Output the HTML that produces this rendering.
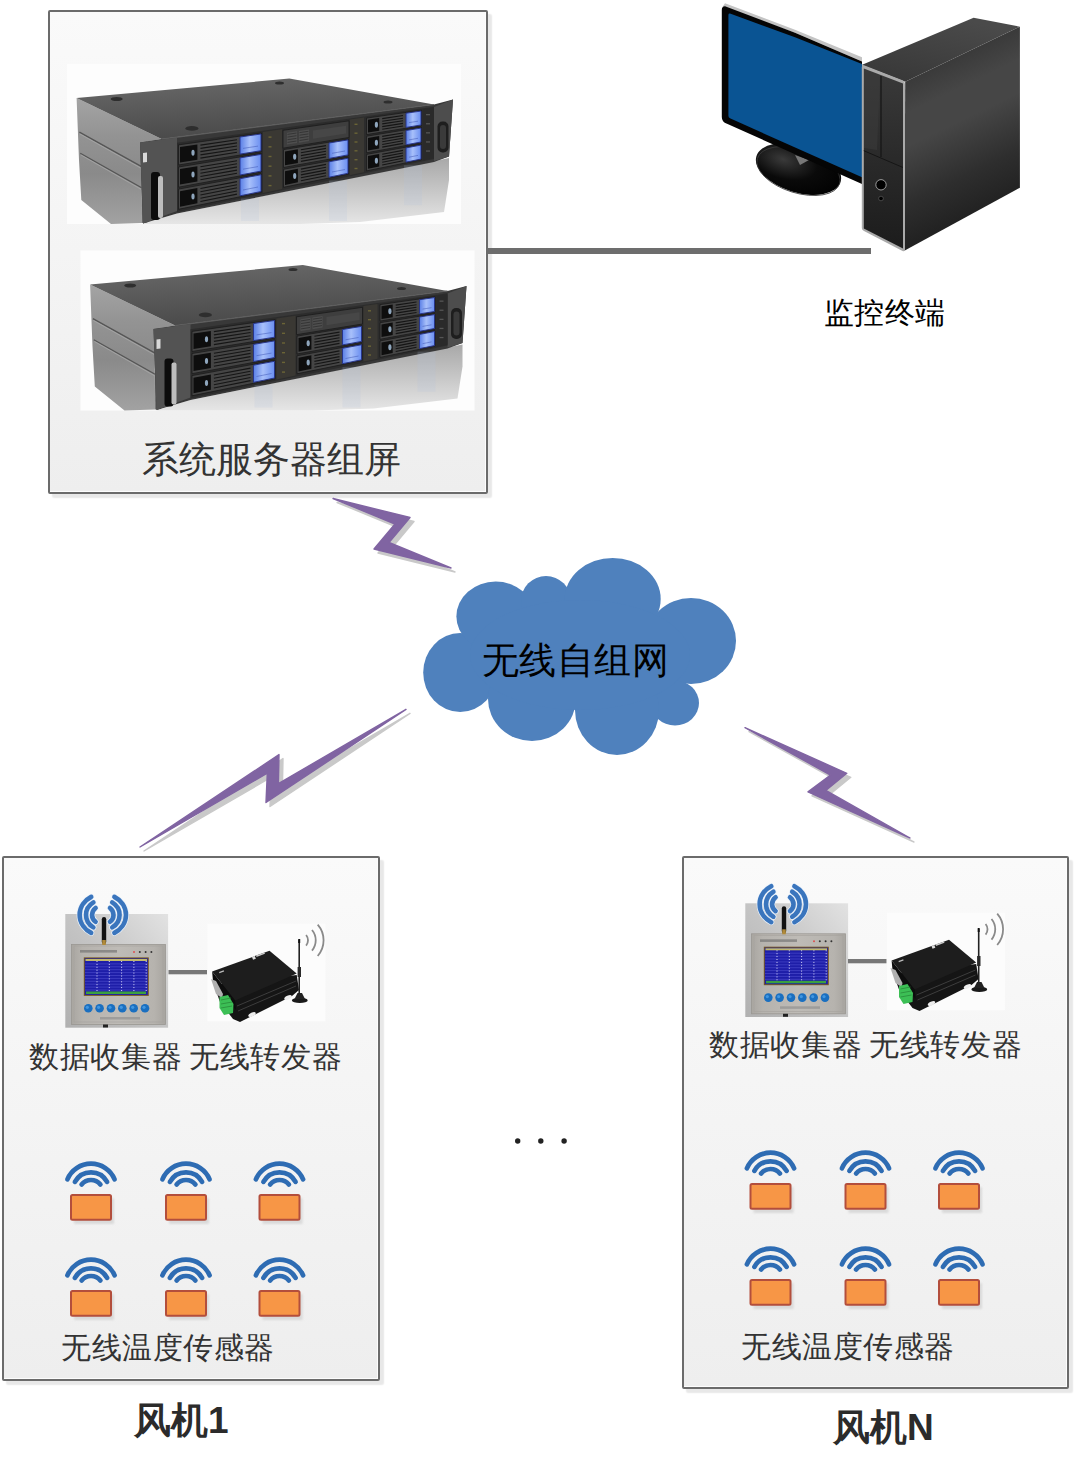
<!DOCTYPE html>
<html><head><meta charset="utf-8">
<style>
html,body{margin:0;padding:0;background:#fff;}
body{width:1075px;height:1462px;position:relative;overflow:hidden;font-family:"Liberation Sans",sans-serif;}
.box{position:absolute;box-sizing:border-box;border:2px solid #6b6b6b;border-radius:2px;background:linear-gradient(#fafafa,#eeeeee);box-shadow:4px 4px 1.5px #e8e8e8, inset -1px -1px 0 #fdfdfd;}
.t{position:absolute;white-space:nowrap;line-height:1;}
svg{position:absolute;left:0;top:0;}
</style></head><body>
<div class="box" style="left:48px;top:10px;width:440px;height:484px"></div>
<div class="box" style="left:2px;top:856px;width:378px;height:525px"></div>
<div class="box" style="left:682px;top:856px;width:387px;height:533px"></div>
<div style="position:absolute;left:488px;top:248.3px;width:383px;height:5.6px;background:#6d6d6d"></div>
<svg width="1075" height="1462" viewBox="0 0 1075 1462">
<defs><filter id="blur1" x="-20%" y="-20%" width="140%" height="140%"><feGaussianBlur stdDeviation="0.8"/></filter>
<linearGradient id="srvTop" x1="0" y1="0" x2="0.3" y2="1">
 <stop offset="0" stop-color="#6a6a6a"/><stop offset="1" stop-color="#4a4a4a"/></linearGradient>
<linearGradient id="srvSide" x1="0" y1="0" x2="0" y2="1">
 <stop offset="0" stop-color="#a4a4a4"/><stop offset="0.3" stop-color="#939393"/><stop offset="0.6" stop-color="#8a8a8a"/>
 <stop offset="1" stop-color="#a2a2a2"/></linearGradient>
<linearGradient id="srvRefl" x1="0" y1="0" x2="0" y2="1">
 <stop offset="0" stop-color="#a8a8a8"/><stop offset="0.55" stop-color="#cacaca"/><stop offset="1" stop-color="#e6e6e6"/></linearGradient>
<linearGradient id="srvFront" x1="0" y1="0" x2="0" y2="1">
 <stop offset="0" stop-color="#4a4a4a"/><stop offset="1" stop-color="#333"/></linearGradient>
<linearGradient id="blueL" x1="0" y1="0" x2="1" y2="0">
 <stop offset="0" stop-color="#5a7fe6"/><stop offset="0.45" stop-color="#a8c0fa"/><stop offset="1" stop-color="#6a8ef0"/></linearGradient>

<linearGradient id="towerSide" gradientUnits="userSpaceOnUse" x1="962" y1="54" x2="1026" y2="188">
 <stop offset="0" stop-color="#3a3a3a"/><stop offset="0.2" stop-color="#464646"/><stop offset="0.4" stop-color="#464646"/><stop offset="0.75" stop-color="#2e2e2e"/><stop offset="1" stop-color="#222"/></linearGradient>
<linearGradient id="towerTop" x1="0" y1="1" x2="0.6" y2="0">
 <stop offset="0" stop-color="#363636"/><stop offset="1" stop-color="#4a4a4a"/></linearGradient>
<linearGradient id="towerFront" x1="0" y1="0" x2="0" y2="1">
 <stop offset="0" stop-color="#3a3a3a"/><stop offset="0.5" stop-color="#2a2a2a"/><stop offset="1" stop-color="#1c1c1c"/></linearGradient>
<radialGradient id="standG" cx="0.3" cy="0.4" r="0.8">
 <stop offset="0" stop-color="#3a3a3a"/><stop offset="0.5" stop-color="#0a0a0a"/><stop offset="1" stop-color="#000"/></radialGradient>

<linearGradient id="colBg" x1="0" y1="1" x2="1" y2="0">
 <stop offset="0" stop-color="#b0b0b0"/><stop offset="0.5" stop-color="#c4c4c4"/><stop offset="1" stop-color="#e2e2e2"/></linearGradient>
<linearGradient id="colPanel" x1="0" y1="0" x2="1" y2="0">
 <stop offset="0" stop-color="#a9a6a1"/><stop offset="0.12" stop-color="#b6b3ae"/><stop offset="0.5" stop-color="#bebbb6"/><stop offset="0.88" stop-color="#b6b3ae"/><stop offset="1" stop-color="#a8a5a0"/></linearGradient>
</defs>
<rect x="67" y="64" width="394" height="160" fill="#fdfdfd"/><polygon points="143.0,223.5 177.0,213.5 449.0,158.0 449.0,180.0 444.0,212.0 360.0,222.0 300.0,224.0 143.0,224.0" fill="url(#srvRefl)" /><polygon points="76.6,98.1 161.6,139.1 141.0,142.5 141.6,223.0 111.0,224.0 81.3,200.0 79.0,160.0" fill="url(#srvSide)" /><path d="M79.4,132.1 L141.6,166.6 M80.3,153.2 L141.6,187.7" stroke="#555" stroke-width="1.3" fill="none"/><path d="M80,134 L141.6,168.5 M81,155 L141.6,189.6" stroke="#a8a8a8" stroke-width="0.8" fill="none"/><polygon points="141.0,142.5 147.0,141.6 147.5,222.5 141.6,223.0" fill="#6e6e6e" /><polygon points="76.6,98.1 289.3,78.6 434.0,104.5 161.6,139.1" fill="url(#srvTop)" /><ellipse cx="116.7" cy="99" rx="6" ry="2.1" fill="#2e2e2e"/><ellipse cx="191.9" cy="128.4" rx="6.5" ry="2.3" fill="#2e2e2e"/><ellipse cx="279.5" cy="83" rx="4.5" ry="1.6" fill="#2e2e2e"/><ellipse cx="388" cy="102" rx="4.5" ry="1.6" fill="#2e2e2e"/><polygon points="140.0,142.4 161.6,139.1 434.0,104.5 453.0,99.5 449.0,156.5 434.0,162.0 177.0,213.5 143.0,223.5" fill="#383838" /><line x1="161.6" y1="139.1" x2="434" y2="104.5" stroke="#5e5e5e" stroke-width="1.2"/><polygon points="140.0,142.4 177.0,137.6 177.0,211.0 143.0,223.5" fill="#535353" /><polygon points="434.0,107.0 453.0,99.5 449.0,156.5 434.0,161.0" fill="#4d4d4d" /><polygon points="177.0,142.7 434.0,106.7 434.0,158.9 177.0,211.9" fill="#2c2c2c" /><polygon points="178.5,144.9 261.5,133.0 261.5,151.6 178.5,165.0" fill="#454545" stroke="#1a1a1a" stroke-width="0.8"/><polygon points="180.0,147.0 197.4,144.4 197.4,159.7 180.0,162.4" fill="#0e0e0e" /><ellipse cx="193.0" cy="152.7" rx="1.6" ry="3" fill="#8fa6bd"/><line x1="200.4" y1="145.1" x2="237.0" y2="139.8" stroke="#151515" stroke-width="1.1"/><line x1="200.4" y1="148.4" x2="237.0" y2="142.9" stroke="#151515" stroke-width="1.1"/><line x1="200.4" y1="151.6" x2="237.0" y2="146.0" stroke="#151515" stroke-width="1.1"/><line x1="200.4" y1="154.9" x2="237.0" y2="149.2" stroke="#151515" stroke-width="1.1"/><line x1="200.4" y1="158.1" x2="237.0" y2="152.3" stroke="#151515" stroke-width="1.1"/><polygon points="240.0,137.0 261.0,134.0 261.0,150.7 240.0,154.1" fill="url(#blueL)" stroke="#22308a" stroke-width="0.9"/><line x1="243.0" y1="148.4" x2="258.0" y2="146.1" stroke="#3a50b0" stroke-width="0.8" opacity="0.6"/><polygon points="178.5,167.0 261.5,153.4 261.5,172.0 178.5,187.2" fill="#454545" stroke="#1a1a1a" stroke-width="0.8"/><polygon points="180.0,169.1 197.4,166.2 197.4,181.4 180.0,184.6" fill="#0e0e0e" /><ellipse cx="193.0" cy="174.6" rx="1.6" ry="3" fill="#8fa6bd"/><line x1="200.4" y1="166.8" x2="237.0" y2="160.7" stroke="#151515" stroke-width="1.1"/><line x1="200.4" y1="170.0" x2="237.0" y2="163.8" stroke="#151515" stroke-width="1.1"/><line x1="200.4" y1="173.3" x2="237.0" y2="166.9" stroke="#151515" stroke-width="1.1"/><line x1="200.4" y1="176.5" x2="237.0" y2="170.1" stroke="#151515" stroke-width="1.1"/><line x1="200.4" y1="179.8" x2="237.0" y2="173.2" stroke="#151515" stroke-width="1.1"/><polygon points="240.0,157.9 261.0,154.4 261.0,171.1 240.0,175.0" fill="url(#blueL)" stroke="#22308a" stroke-width="0.9"/><line x1="243.0" y1="169.2" x2="258.0" y2="166.6" stroke="#3a50b0" stroke-width="0.8" opacity="0.6"/><polygon points="178.5,189.1 261.5,173.8 261.5,192.4 178.5,209.3" fill="#454545" stroke="#1a1a1a" stroke-width="0.8"/><polygon points="180.0,191.2 197.4,187.9 197.4,203.2 180.0,206.7" fill="#0e0e0e" /><ellipse cx="193.0" cy="196.4" rx="1.6" ry="3" fill="#8fa6bd"/><line x1="200.4" y1="188.5" x2="237.0" y2="181.6" stroke="#151515" stroke-width="1.1"/><line x1="200.4" y1="191.7" x2="237.0" y2="184.7" stroke="#151515" stroke-width="1.1"/><line x1="200.4" y1="195.0" x2="237.0" y2="187.8" stroke="#151515" stroke-width="1.1"/><line x1="200.4" y1="198.2" x2="237.0" y2="191.0" stroke="#151515" stroke-width="1.1"/><line x1="200.4" y1="201.5" x2="237.0" y2="194.1" stroke="#151515" stroke-width="1.1"/><polygon points="240.0,178.7 261.0,174.8 261.0,191.5 240.0,195.8" fill="url(#blueL)" stroke="#22308a" stroke-width="0.9"/><line x1="243.0" y1="190.0" x2="258.0" y2="187.0" stroke="#3a50b0" stroke-width="0.8" opacity="0.6"/><polygon points="263.0,131.9 282.0,129.2 282.0,189.1 263.0,193.0" fill="#3a3833" /><rect x="268.5" y="136.4" width="3" height="1.4" fill="#6b6436"/><rect x="268.5" y="146.1" width="3" height="1.4" fill="#6b6436"/><rect x="268.5" y="155.8" width="3" height="1.4" fill="#6b6436"/><rect x="268.5" y="165.5" width="3" height="1.4" fill="#6b6436"/><rect x="268.5" y="175.2" width="3" height="1.4" fill="#6b6436"/><rect x="268.5" y="184.9" width="3" height="1.4" fill="#6b6436"/><polygon points="283.0,130.3 349.0,120.8 349.0,137.5 283.0,148.2" fill="#3e3e3e" stroke="#1a1a1a" stroke-width="0.8"/><polygon points="287.0,132.7 297.0,131.2 297.0,143.0 287.0,144.6" fill="#4e4e4e" /><line x1="287.5" y1="134.4" x2="296.5" y2="133.0" stroke="#2a2a2a" stroke-width="0.7"/><line x1="287.5" y1="137.1" x2="296.5" y2="135.7" stroke="#2a2a2a" stroke-width="0.7"/><line x1="287.5" y1="139.7" x2="296.5" y2="138.4" stroke="#2a2a2a" stroke-width="0.7"/><line x1="287.5" y1="142.4" x2="296.5" y2="141.0" stroke="#2a2a2a" stroke-width="0.7"/><polygon points="299.0,130.9 309.0,129.5 309.0,141.1 299.0,142.7" fill="#4e4e4e" /><line x1="299.5" y1="132.6" x2="308.5" y2="131.3" stroke="#2a2a2a" stroke-width="0.7"/><line x1="299.5" y1="135.2" x2="308.5" y2="133.9" stroke="#2a2a2a" stroke-width="0.7"/><line x1="299.5" y1="137.9" x2="308.5" y2="136.5" stroke="#2a2a2a" stroke-width="0.7"/><line x1="299.5" y1="140.5" x2="308.5" y2="139.1" stroke="#2a2a2a" stroke-width="0.7"/><polygon points="313.0,130.6 346.0,125.7 346.0,133.5 313.0,138.7" fill="#474747" /><polygon points="283.5,149.6 348.5,139.0 348.5,155.7 283.5,167.5" fill="#454545" stroke="#1a1a1a" stroke-width="0.8"/><polygon points="285.0,151.5 297.9,149.3 297.9,162.9 285.0,165.2" fill="#0e0e0e" /><ellipse cx="294.7" cy="156.7" rx="1.6" ry="3" fill="#8fa6bd"/><line x1="300.9" y1="149.8" x2="326.0" y2="145.6" stroke="#151515" stroke-width="1.1"/><line x1="300.9" y1="152.7" x2="326.0" y2="148.4" stroke="#151515" stroke-width="1.1"/><line x1="300.9" y1="155.6" x2="326.0" y2="151.2" stroke="#151515" stroke-width="1.1"/><line x1="300.9" y1="158.5" x2="326.0" y2="154.1" stroke="#151515" stroke-width="1.1"/><line x1="300.9" y1="161.4" x2="326.0" y2="156.9" stroke="#151515" stroke-width="1.1"/><polygon points="329.0,143.0 348.0,139.9 348.0,154.9 329.0,158.4" fill="url(#blueL)" stroke="#22308a" stroke-width="0.9"/><line x1="332.0" y1="153.3" x2="345.0" y2="151.0" stroke="#3a50b0" stroke-width="0.8" opacity="0.6"/><polygon points="283.5,169.3 348.5,157.4 348.5,174.1 283.5,187.3" fill="#454545" stroke="#1a1a1a" stroke-width="0.8"/><polygon points="285.0,171.2 297.9,168.8 297.9,182.3 285.0,184.9" fill="#0e0e0e" /><ellipse cx="294.7" cy="176.1" rx="1.6" ry="3" fill="#8fa6bd"/><line x1="300.9" y1="169.1" x2="326.0" y2="164.4" stroke="#151515" stroke-width="1.1"/><line x1="300.9" y1="172.0" x2="326.0" y2="167.2" stroke="#151515" stroke-width="1.1"/><line x1="300.9" y1="174.9" x2="326.0" y2="170.1" stroke="#151515" stroke-width="1.1"/><line x1="300.9" y1="177.8" x2="326.0" y2="172.9" stroke="#151515" stroke-width="1.1"/><line x1="300.9" y1="180.7" x2="326.0" y2="175.7" stroke="#151515" stroke-width="1.1"/><polygon points="329.0,161.8 348.0,158.3 348.0,173.3 329.0,177.2" fill="url(#blueL)" stroke="#22308a" stroke-width="0.9"/><line x1="332.0" y1="172.0" x2="345.0" y2="169.5" stroke="#3a50b0" stroke-width="0.8" opacity="0.6"/><polygon points="350.0,119.6 364.0,117.6 364.0,172.3 350.0,175.1" fill="#3a3833" /><rect x="354.5" y="123.6" width="3" height="1.4" fill="#6b6436"/><rect x="354.5" y="132.5" width="3" height="1.4" fill="#6b6436"/><rect x="354.5" y="141.3" width="3" height="1.4" fill="#6b6436"/><rect x="354.5" y="150.1" width="3" height="1.4" fill="#6b6436"/><rect x="354.5" y="159.0" width="3" height="1.4" fill="#6b6436"/><rect x="354.5" y="167.8" width="3" height="1.4" fill="#6b6436"/><polygon points="366.5,118.1 421.5,110.2 421.5,125.7 366.5,134.6" fill="#454545" stroke="#1a1a1a" stroke-width="0.8"/><polygon points="368.0,119.7 379.2,118.1 379.2,130.7 368.0,132.4" fill="#0e0e0e" /><ellipse cx="376.4" cy="124.8" rx="1.6" ry="3" fill="#8fa6bd"/><line x1="382.2" y1="118.6" x2="403.0" y2="115.5" stroke="#151515" stroke-width="1.1"/><line x1="382.2" y1="121.3" x2="403.0" y2="118.2" stroke="#151515" stroke-width="1.1"/><line x1="382.2" y1="123.9" x2="403.0" y2="120.8" stroke="#151515" stroke-width="1.1"/><line x1="382.2" y1="126.6" x2="403.0" y2="123.4" stroke="#151515" stroke-width="1.1"/><line x1="382.2" y1="129.3" x2="403.0" y2="126.0" stroke="#151515" stroke-width="1.1"/><polygon points="406.0,113.2 421.0,111.1 421.0,125.0 406.0,127.4" fill="url(#blueL)" stroke="#22308a" stroke-width="0.9"/><line x1="409.0" y1="122.6" x2="418.0" y2="121.2" stroke="#3a50b0" stroke-width="0.8" opacity="0.6"/><polygon points="366.5,136.2 421.5,127.2 421.5,142.7 366.5,152.8" fill="#454545" stroke="#1a1a1a" stroke-width="0.8"/><polygon points="368.0,137.9 379.2,136.0 379.2,148.6 368.0,150.6" fill="#0e0e0e" /><ellipse cx="376.4" cy="142.8" rx="1.6" ry="3" fill="#8fa6bd"/><line x1="382.2" y1="136.4" x2="403.0" y2="133.0" stroke="#151515" stroke-width="1.1"/><line x1="382.2" y1="139.1" x2="403.0" y2="135.6" stroke="#151515" stroke-width="1.1"/><line x1="382.2" y1="141.8" x2="403.0" y2="138.2" stroke="#151515" stroke-width="1.1"/><line x1="382.2" y1="144.5" x2="403.0" y2="140.8" stroke="#151515" stroke-width="1.1"/><line x1="382.2" y1="147.1" x2="403.0" y2="143.4" stroke="#151515" stroke-width="1.1"/><polygon points="406.0,130.5 421.0,128.1 421.0,142.0 406.0,144.8" fill="url(#blueL)" stroke="#22308a" stroke-width="0.9"/><line x1="409.0" y1="139.9" x2="418.0" y2="138.3" stroke="#3a50b0" stroke-width="0.8" opacity="0.6"/><polygon points="366.5,154.4 421.5,144.2 421.5,159.7 366.5,170.9" fill="#454545" stroke="#1a1a1a" stroke-width="0.8"/><polygon points="368.0,156.0 379.2,153.9 379.2,166.5 368.0,168.7" fill="#0e0e0e" /><ellipse cx="376.4" cy="160.7" rx="1.6" ry="3" fill="#8fa6bd"/><line x1="382.2" y1="154.3" x2="403.0" y2="150.4" stroke="#151515" stroke-width="1.1"/><line x1="382.2" y1="156.9" x2="403.0" y2="153.0" stroke="#151515" stroke-width="1.1"/><line x1="382.2" y1="159.6" x2="403.0" y2="155.6" stroke="#151515" stroke-width="1.1"/><line x1="382.2" y1="162.3" x2="403.0" y2="158.2" stroke="#151515" stroke-width="1.1"/><line x1="382.2" y1="165.0" x2="403.0" y2="160.8" stroke="#151515" stroke-width="1.1"/><polygon points="406.0,147.9 421.0,145.1 421.0,159.1 406.0,162.1" fill="url(#blueL)" stroke="#22308a" stroke-width="0.9"/><line x1="409.0" y1="157.2" x2="418.0" y2="155.4" stroke="#3a50b0" stroke-width="0.8" opacity="0.6"/><polygon points="423.0,109.2 434.0,107.7 434.0,157.9 423.0,160.2" fill="#2a2a2a" /><rect x="426.0" y="114.0" width="4" height="1.3" fill="#555"/><rect x="426.0" y="123.1" width="4" height="1.3" fill="#555"/><rect x="426.0" y="132.2" width="4" height="1.3" fill="#555"/><rect x="426.0" y="141.3" width="4" height="1.3" fill="#555"/><rect x="426.0" y="150.4" width="4" height="1.3" fill="#555"/><polygon points="143.0,153.0 147.0,152.5 147.0,162.0 143.0,162.5" fill="#d8d8d8" /><rect x="151" y="172" width="9" height="48" rx="3" fill="#0c0c0c"/><rect x="158" y="176" width="5" height="42" rx="2" fill="#bdbdbd"/><rect x="437.5" y="121.5" width="11" height="31" rx="5" fill="#1e1e1e"/><rect x="440" y="125" width="6" height="24" rx="3" fill="#3a3a3a"/><rect x="241" y="198.6" width="18" height="22.4" fill="#b4c0dc" opacity="0.18"/><rect x="329" y="180.6" width="18" height="40.4" fill="#b4c0dc" opacity="0.18"/><rect x="404" y="165.2" width="18" height="40.0" fill="#b4c0dc" opacity="0.18"/>
<rect x="80.5" y="250.5" width="394" height="160" fill="#fdfdfd"/><polygon points="156.5,410.0 190.5,400.0 462.5,344.5 462.5,366.5 457.5,398.5 373.5,408.5 313.5,410.5 156.5,410.5" fill="url(#srvRefl)" /><polygon points="90.1,284.6 175.1,325.6 154.5,329.0 155.1,409.5 124.5,410.5 94.8,386.5 92.5,346.5" fill="url(#srvSide)" /><path d="M92.9,318.6 L155.1,353.1 M93.8,339.7 L155.1,374.2" stroke="#555" stroke-width="1.3" fill="none"/><path d="M93.5,320.5 L155.1,355.0 M94.5,341.5 L155.1,376.1" stroke="#a8a8a8" stroke-width="0.8" fill="none"/><polygon points="154.5,329.0 160.5,328.1 161.0,409.0 155.1,409.5" fill="#6e6e6e" /><polygon points="90.1,284.6 302.8,265.1 447.5,291.0 175.1,325.6" fill="url(#srvTop)" /><ellipse cx="130.2" cy="285.5" rx="6" ry="2.1" fill="#2e2e2e"/><ellipse cx="205.4" cy="314.9" rx="6.5" ry="2.3" fill="#2e2e2e"/><ellipse cx="293.0" cy="269.5" rx="4.5" ry="1.6" fill="#2e2e2e"/><ellipse cx="401.5" cy="288.5" rx="4.5" ry="1.6" fill="#2e2e2e"/><polygon points="153.5,328.9 175.1,325.6 447.5,291.0 466.5,286.0 462.5,343.0 447.5,348.5 190.5,400.0 156.5,410.0" fill="#383838" /><line x1="175.1" y1="325.6" x2="447.5" y2="291.0" stroke="#5e5e5e" stroke-width="1.2"/><polygon points="153.5,328.9 190.5,324.1 190.5,397.5 156.5,410.0" fill="#535353" /><polygon points="447.5,293.5 466.5,286.0 462.5,343.0 447.5,347.5" fill="#4d4d4d" /><polygon points="190.5,329.2 447.5,293.2 447.5,345.4 190.5,398.4" fill="#2c2c2c" /><polygon points="192.0,331.4 275.0,319.5 275.0,338.1 192.0,351.5" fill="#454545" stroke="#1a1a1a" stroke-width="0.8"/><polygon points="193.5,333.5 210.9,330.9 210.9,346.2 193.5,348.9" fill="#0e0e0e" /><ellipse cx="206.5" cy="339.2" rx="1.6" ry="3" fill="#8fa6bd"/><line x1="213.9" y1="331.6" x2="250.5" y2="326.3" stroke="#151515" stroke-width="1.1"/><line x1="213.9" y1="334.9" x2="250.5" y2="329.4" stroke="#151515" stroke-width="1.1"/><line x1="213.9" y1="338.1" x2="250.5" y2="332.5" stroke="#151515" stroke-width="1.1"/><line x1="213.9" y1="341.4" x2="250.5" y2="335.7" stroke="#151515" stroke-width="1.1"/><line x1="213.9" y1="344.6" x2="250.5" y2="338.8" stroke="#151515" stroke-width="1.1"/><polygon points="253.5,323.5 274.5,320.5 274.5,337.2 253.5,340.6" fill="url(#blueL)" stroke="#22308a" stroke-width="0.9"/><line x1="256.5" y1="334.9" x2="271.5" y2="332.6" stroke="#3a50b0" stroke-width="0.8" opacity="0.6"/><polygon points="192.0,353.5 275.0,339.9 275.0,358.5 192.0,373.7" fill="#454545" stroke="#1a1a1a" stroke-width="0.8"/><polygon points="193.5,355.6 210.9,352.7 210.9,367.9 193.5,371.1" fill="#0e0e0e" /><ellipse cx="206.5" cy="361.1" rx="1.6" ry="3" fill="#8fa6bd"/><line x1="213.9" y1="353.3" x2="250.5" y2="347.2" stroke="#151515" stroke-width="1.1"/><line x1="213.9" y1="356.5" x2="250.5" y2="350.3" stroke="#151515" stroke-width="1.1"/><line x1="213.9" y1="359.8" x2="250.5" y2="353.4" stroke="#151515" stroke-width="1.1"/><line x1="213.9" y1="363.0" x2="250.5" y2="356.6" stroke="#151515" stroke-width="1.1"/><line x1="213.9" y1="366.3" x2="250.5" y2="359.7" stroke="#151515" stroke-width="1.1"/><polygon points="253.5,344.4 274.5,340.9 274.5,357.6 253.5,361.5" fill="url(#blueL)" stroke="#22308a" stroke-width="0.9"/><line x1="256.5" y1="355.7" x2="271.5" y2="353.1" stroke="#3a50b0" stroke-width="0.8" opacity="0.6"/><polygon points="192.0,375.6 275.0,360.3 275.0,378.9 192.0,395.8" fill="#454545" stroke="#1a1a1a" stroke-width="0.8"/><polygon points="193.5,377.7 210.9,374.4 210.9,389.7 193.5,393.2" fill="#0e0e0e" /><ellipse cx="206.5" cy="382.9" rx="1.6" ry="3" fill="#8fa6bd"/><line x1="213.9" y1="375.0" x2="250.5" y2="368.1" stroke="#151515" stroke-width="1.1"/><line x1="213.9" y1="378.2" x2="250.5" y2="371.2" stroke="#151515" stroke-width="1.1"/><line x1="213.9" y1="381.5" x2="250.5" y2="374.3" stroke="#151515" stroke-width="1.1"/><line x1="213.9" y1="384.7" x2="250.5" y2="377.5" stroke="#151515" stroke-width="1.1"/><line x1="213.9" y1="388.0" x2="250.5" y2="380.6" stroke="#151515" stroke-width="1.1"/><polygon points="253.5,365.2 274.5,361.3 274.5,378.0 253.5,382.3" fill="url(#blueL)" stroke="#22308a" stroke-width="0.9"/><line x1="256.5" y1="376.5" x2="271.5" y2="373.5" stroke="#3a50b0" stroke-width="0.8" opacity="0.6"/><polygon points="276.5,318.4 295.5,315.7 295.5,375.6 276.5,379.5" fill="#3a3833" /><rect x="282.0" y="322.9" width="3" height="1.4" fill="#6b6436"/><rect x="282.0" y="332.6" width="3" height="1.4" fill="#6b6436"/><rect x="282.0" y="342.3" width="3" height="1.4" fill="#6b6436"/><rect x="282.0" y="352.0" width="3" height="1.4" fill="#6b6436"/><rect x="282.0" y="361.7" width="3" height="1.4" fill="#6b6436"/><rect x="282.0" y="371.4" width="3" height="1.4" fill="#6b6436"/><polygon points="296.5,316.8 362.5,307.3 362.5,324.0 296.5,334.7" fill="#3e3e3e" stroke="#1a1a1a" stroke-width="0.8"/><polygon points="300.5,319.2 310.5,317.7 310.5,329.5 300.5,331.1" fill="#4e4e4e" /><line x1="301.0" y1="320.9" x2="310.0" y2="319.5" stroke="#2a2a2a" stroke-width="0.7"/><line x1="301.0" y1="323.6" x2="310.0" y2="322.2" stroke="#2a2a2a" stroke-width="0.7"/><line x1="301.0" y1="326.2" x2="310.0" y2="324.9" stroke="#2a2a2a" stroke-width="0.7"/><line x1="301.0" y1="328.9" x2="310.0" y2="327.5" stroke="#2a2a2a" stroke-width="0.7"/><polygon points="312.5,317.4 322.5,316.0 322.5,327.6 312.5,329.2" fill="#4e4e4e" /><line x1="313.0" y1="319.1" x2="322.0" y2="317.8" stroke="#2a2a2a" stroke-width="0.7"/><line x1="313.0" y1="321.7" x2="322.0" y2="320.4" stroke="#2a2a2a" stroke-width="0.7"/><line x1="313.0" y1="324.4" x2="322.0" y2="323.0" stroke="#2a2a2a" stroke-width="0.7"/><line x1="313.0" y1="327.0" x2="322.0" y2="325.6" stroke="#2a2a2a" stroke-width="0.7"/><polygon points="326.5,317.1 359.5,312.2 359.5,320.0 326.5,325.2" fill="#474747" /><polygon points="297.0,336.1 362.0,325.5 362.0,342.2 297.0,354.0" fill="#454545" stroke="#1a1a1a" stroke-width="0.8"/><polygon points="298.5,338.0 311.4,335.8 311.4,349.4 298.5,351.7" fill="#0e0e0e" /><ellipse cx="308.2" cy="343.2" rx="1.6" ry="3" fill="#8fa6bd"/><line x1="314.4" y1="336.3" x2="339.5" y2="332.1" stroke="#151515" stroke-width="1.1"/><line x1="314.4" y1="339.2" x2="339.5" y2="334.9" stroke="#151515" stroke-width="1.1"/><line x1="314.4" y1="342.1" x2="339.5" y2="337.7" stroke="#151515" stroke-width="1.1"/><line x1="314.4" y1="345.0" x2="339.5" y2="340.6" stroke="#151515" stroke-width="1.1"/><line x1="314.4" y1="347.9" x2="339.5" y2="343.4" stroke="#151515" stroke-width="1.1"/><polygon points="342.5,329.5 361.5,326.4 361.5,341.4 342.5,344.9" fill="url(#blueL)" stroke="#22308a" stroke-width="0.9"/><line x1="345.5" y1="339.8" x2="358.5" y2="337.5" stroke="#3a50b0" stroke-width="0.8" opacity="0.6"/><polygon points="297.0,355.8 362.0,343.9 362.0,360.6 297.0,373.8" fill="#454545" stroke="#1a1a1a" stroke-width="0.8"/><polygon points="298.5,357.7 311.4,355.3 311.4,368.8 298.5,371.4" fill="#0e0e0e" /><ellipse cx="308.2" cy="362.6" rx="1.6" ry="3" fill="#8fa6bd"/><line x1="314.4" y1="355.6" x2="339.5" y2="350.9" stroke="#151515" stroke-width="1.1"/><line x1="314.4" y1="358.5" x2="339.5" y2="353.7" stroke="#151515" stroke-width="1.1"/><line x1="314.4" y1="361.4" x2="339.5" y2="356.6" stroke="#151515" stroke-width="1.1"/><line x1="314.4" y1="364.3" x2="339.5" y2="359.4" stroke="#151515" stroke-width="1.1"/><line x1="314.4" y1="367.2" x2="339.5" y2="362.2" stroke="#151515" stroke-width="1.1"/><polygon points="342.5,348.3 361.5,344.8 361.5,359.8 342.5,363.7" fill="url(#blueL)" stroke="#22308a" stroke-width="0.9"/><line x1="345.5" y1="358.5" x2="358.5" y2="356.0" stroke="#3a50b0" stroke-width="0.8" opacity="0.6"/><polygon points="363.5,306.1 377.5,304.1 377.5,358.8 363.5,361.6" fill="#3a3833" /><rect x="368.0" y="310.1" width="3" height="1.4" fill="#6b6436"/><rect x="368.0" y="319.0" width="3" height="1.4" fill="#6b6436"/><rect x="368.0" y="327.8" width="3" height="1.4" fill="#6b6436"/><rect x="368.0" y="336.6" width="3" height="1.4" fill="#6b6436"/><rect x="368.0" y="345.5" width="3" height="1.4" fill="#6b6436"/><rect x="368.0" y="354.3" width="3" height="1.4" fill="#6b6436"/><polygon points="380.0,304.6 435.0,296.7 435.0,312.2 380.0,321.1" fill="#454545" stroke="#1a1a1a" stroke-width="0.8"/><polygon points="381.5,306.2 392.7,304.6 392.7,317.2 381.5,318.9" fill="#0e0e0e" /><ellipse cx="389.9" cy="311.3" rx="1.6" ry="3" fill="#8fa6bd"/><line x1="395.7" y1="305.1" x2="416.5" y2="302.0" stroke="#151515" stroke-width="1.1"/><line x1="395.7" y1="307.8" x2="416.5" y2="304.7" stroke="#151515" stroke-width="1.1"/><line x1="395.7" y1="310.4" x2="416.5" y2="307.3" stroke="#151515" stroke-width="1.1"/><line x1="395.7" y1="313.1" x2="416.5" y2="309.9" stroke="#151515" stroke-width="1.1"/><line x1="395.7" y1="315.8" x2="416.5" y2="312.5" stroke="#151515" stroke-width="1.1"/><polygon points="419.5,299.7 434.5,297.6 434.5,311.5 419.5,313.9" fill="url(#blueL)" stroke="#22308a" stroke-width="0.9"/><line x1="422.5" y1="309.1" x2="431.5" y2="307.7" stroke="#3a50b0" stroke-width="0.8" opacity="0.6"/><polygon points="380.0,322.7 435.0,313.7 435.0,329.2 380.0,339.3" fill="#454545" stroke="#1a1a1a" stroke-width="0.8"/><polygon points="381.5,324.4 392.7,322.5 392.7,335.1 381.5,337.1" fill="#0e0e0e" /><ellipse cx="389.9" cy="329.3" rx="1.6" ry="3" fill="#8fa6bd"/><line x1="395.7" y1="322.9" x2="416.5" y2="319.5" stroke="#151515" stroke-width="1.1"/><line x1="395.7" y1="325.6" x2="416.5" y2="322.1" stroke="#151515" stroke-width="1.1"/><line x1="395.7" y1="328.3" x2="416.5" y2="324.7" stroke="#151515" stroke-width="1.1"/><line x1="395.7" y1="331.0" x2="416.5" y2="327.3" stroke="#151515" stroke-width="1.1"/><line x1="395.7" y1="333.6" x2="416.5" y2="329.9" stroke="#151515" stroke-width="1.1"/><polygon points="419.5,317.0 434.5,314.6 434.5,328.5 419.5,331.3" fill="url(#blueL)" stroke="#22308a" stroke-width="0.9"/><line x1="422.5" y1="326.4" x2="431.5" y2="324.8" stroke="#3a50b0" stroke-width="0.8" opacity="0.6"/><polygon points="380.0,340.9 435.0,330.7 435.0,346.2 380.0,357.4" fill="#454545" stroke="#1a1a1a" stroke-width="0.8"/><polygon points="381.5,342.5 392.7,340.4 392.7,353.0 381.5,355.2" fill="#0e0e0e" /><ellipse cx="389.9" cy="347.2" rx="1.6" ry="3" fill="#8fa6bd"/><line x1="395.7" y1="340.8" x2="416.5" y2="336.9" stroke="#151515" stroke-width="1.1"/><line x1="395.7" y1="343.4" x2="416.5" y2="339.5" stroke="#151515" stroke-width="1.1"/><line x1="395.7" y1="346.1" x2="416.5" y2="342.1" stroke="#151515" stroke-width="1.1"/><line x1="395.7" y1="348.8" x2="416.5" y2="344.7" stroke="#151515" stroke-width="1.1"/><line x1="395.7" y1="351.5" x2="416.5" y2="347.3" stroke="#151515" stroke-width="1.1"/><polygon points="419.5,334.4 434.5,331.6 434.5,345.6 419.5,348.6" fill="url(#blueL)" stroke="#22308a" stroke-width="0.9"/><line x1="422.5" y1="343.7" x2="431.5" y2="341.9" stroke="#3a50b0" stroke-width="0.8" opacity="0.6"/><polygon points="436.5,295.7 447.5,294.2 447.5,344.4 436.5,346.7" fill="#2a2a2a" /><rect x="439.5" y="300.5" width="4" height="1.3" fill="#555"/><rect x="439.5" y="309.6" width="4" height="1.3" fill="#555"/><rect x="439.5" y="318.7" width="4" height="1.3" fill="#555"/><rect x="439.5" y="327.8" width="4" height="1.3" fill="#555"/><rect x="439.5" y="336.9" width="4" height="1.3" fill="#555"/><polygon points="156.5,339.5 160.5,339.0 160.5,348.5 156.5,349.0" fill="#d8d8d8" /><rect x="164.5" y="358.5" width="9" height="48" rx="3" fill="#0c0c0c"/><rect x="171.5" y="362.5" width="5" height="42" rx="2" fill="#bdbdbd"/><rect x="451.0" y="308.0" width="11" height="31" rx="5" fill="#1e1e1e"/><rect x="453.5" y="311.5" width="6" height="24" rx="3" fill="#3a3a3a"/><rect x="254.5" y="385.1" width="18" height="22.4" fill="#b4c0dc" opacity="0.18"/><rect x="342.5" y="367.1" width="18" height="40.4" fill="#b4c0dc" opacity="0.18"/><rect x="417.5" y="351.7" width="18" height="40.0" fill="#b4c0dc" opacity="0.18"/>
<ellipse cx="798.5" cy="169" rx="44" ry="23.5" transform="rotate(17 798.5 169)" fill="url(#standG)"/><ellipse cx="798.5" cy="171" rx="43" ry="22" transform="rotate(17 798.5 171)" fill="none" stroke="#3a3a3a" stroke-width="0.8"/><polygon points="795.0,155.0 809.0,160.0 800.0,165.0" fill="#777" /><polygon points="725.0,3.3 795.0,29.8 862.0,57.2 862.0,61.5 795.0,32.7 722.4,7.0" fill="#c4c4c4" /><path d="M721.8,10 Q721.8,6.3 725,6.3 L795,32.7 L862,61.5 L862,184 L727,123.8 Q721.8,122 721.8,117 Z" fill="#050505"/><path d="M728.4,15 Q728.4,13.4 730,13.6 L795,37.2 L862,64 L862,177.3 L730.5,118.6 Q728.4,117.8 728.4,116 Z" fill="#0a5493"/><polygon points="861.6,64.9 905.2,81.8 1019.9,26.7 973.6,17.8" fill="url(#towerTop)" /><polygon points="905.2,81.8 1019.9,26.7 1019.9,187.7 904.3,250.8" fill="url(#towerSide)" /><path d="M861.8,67 Q861.8,64.6 864,65.3 L903,80.5 Q905,81.5 905,84 L905,249 Q905,252 902.5,251 L864,231 Q861.8,230 861.8,228 Z" fill="#aaaaaa"/><path d="M863.8,68.5 L903,83.5 L903,248.5 L863.8,228.5 Z" fill="url(#towerFront)"/><polygon points="864.0,70.0 880.0,76.0 877.0,150.0 864.0,148.0" fill="#3a3a3a" opacity="0.6"/><line x1="881" y1="76" x2="881" y2="157" stroke="#151515" stroke-width="1.2"/><line x1="863.8" y1="150.7" x2="903" y2="167.5" stroke="#151515" stroke-width="1"/><circle cx="881" cy="184.8" r="5.2" fill="#000" stroke="#9a9a9a" stroke-width="1"/><circle cx="881" cy="198.5" r="2.3" fill="#000" stroke="#777" stroke-width="0.5"/>
<path d="M337.0,502.5 L414.0,521.5 L393.0,546.5 L455.0,572.0 L378.0,553.0 L399.0,528.0Z" fill="#c9c9c9" stroke="#c9c9c9" stroke-width="1.4" stroke-linejoin="round"/><path d="M333.0,498.5 L410.0,517.5 L389.0,542.5 L451.0,568.0 L374.0,549.0 L395.0,524.0Z" fill="#8064a2" stroke="#8064a2" stroke-width="1.4" stroke-linejoin="round"/><path d="M144.0,851.0 L283.0,758.6 L282.4,787.6 L410.0,713.4 L270.0,806.5 L271.3,777.2Z" fill="#c9c9c9" stroke="#c9c9c9" stroke-width="1.4" stroke-linejoin="round"/><path d="M140.0,847.0 L279.0,754.6 L278.4,783.6 L406.0,709.4 L266.0,802.5 L267.3,773.2Z" fill="#8064a2" stroke="#8064a2" stroke-width="1.4" stroke-linejoin="round"/><path d="M749.0,731.7 L850.8,777.3 L829.8,794.4 L914.0,842.0 L812.0,795.9 L834.5,779.1Z" fill="#c9c9c9" stroke="#c9c9c9" stroke-width="1.4" stroke-linejoin="round"/><path d="M745.0,727.7 L846.8,773.3 L825.8,790.4 L910.0,838.0 L808.0,791.9 L830.5,775.1Z" fill="#8064a2" stroke="#8064a2" stroke-width="1.4" stroke-linejoin="round"/>
<g fill="#4f81bd"><ellipse cx="460.2" cy="672.6" rx="37" ry="39.5"/><ellipse cx="495.7" cy="616.4" rx="39.3" ry="34.8"/><ellipse cx="546" cy="601" rx="25" ry="25"/><ellipse cx="612.7" cy="599" rx="48" ry="41"/><ellipse cx="691" cy="641" rx="45" ry="43"/><ellipse cx="675" cy="703" rx="24" ry="22.5"/><ellipse cx="617" cy="710" rx="42" ry="45"/><ellipse cx="532" cy="699" rx="44" ry="42"/><ellipse cx="580" cy="655" rx="110" ry="55"/></g>
<rect x="65.3" y="914" width="102.8" height="113.7" fill="url(#colBg)"/><rect x="71.5" y="944.5" width="94" height="80" fill="url(#colPanel)" stroke="#9a9792" stroke-width="0.8"/><rect x="74" y="946" width="89" height="76" fill="none" stroke="#a5a29d" stroke-width="0.6"/><rect x="80" y="950" width="37" height="2.6" fill="#6a6a6a" opacity="0.6"/><circle cx="134.0" cy="952.0" r="1" fill="#e05050"/><circle cx="139.8" cy="952.0" r="1" fill="#333"/><circle cx="145.6" cy="952.0" r="1" fill="#333"/><circle cx="151.4" cy="952.0" r="1" fill="#333"/><rect x="83.8" y="957.4" width="65" height="38.5" fill="#7a5a20"/><rect x="84.8" y="958.4" width="63" height="36.5" fill="#1e1ea8"/><rect x="85.5" y="959" width="61.5" height="2" fill="#e8e060" opacity="0.8"/><line x1="85" y1="963.9" x2="147.5" y2="963.9" stroke="#5a5ad8" stroke-width="0.5"/><line x1="85" y1="966.8" x2="147.5" y2="966.8" stroke="#5a5ad8" stroke-width="0.5"/><line x1="85" y1="969.7" x2="147.5" y2="969.7" stroke="#5a5ad8" stroke-width="0.5"/><line x1="85" y1="972.6" x2="147.5" y2="972.6" stroke="#5a5ad8" stroke-width="0.5"/><line x1="85" y1="975.5" x2="147.5" y2="975.5" stroke="#5a5ad8" stroke-width="0.5"/><line x1="85" y1="978.4" x2="147.5" y2="978.4" stroke="#5a5ad8" stroke-width="0.5"/><line x1="85" y1="981.3" x2="147.5" y2="981.3" stroke="#5a5ad8" stroke-width="0.5"/><line x1="85" y1="984.2" x2="147.5" y2="984.2" stroke="#5a5ad8" stroke-width="0.5"/><line x1="85" y1="987.1" x2="147.5" y2="987.1" stroke="#5a5ad8" stroke-width="0.5"/><line x1="85" y1="990.0" x2="147.5" y2="990.0" stroke="#5a5ad8" stroke-width="0.5"/><line x1="97.0" y1="961" x2="97.0" y2="991" stroke="#d8d8f8" stroke-width="1" stroke-dasharray="1 1.9"/><line x1="109.3" y1="961" x2="109.3" y2="991" stroke="#d8d8f8" stroke-width="1" stroke-dasharray="1 1.9"/><line x1="121.6" y1="961" x2="121.6" y2="991" stroke="#d8d8f8" stroke-width="1" stroke-dasharray="1 1.9"/><line x1="133.9" y1="961" x2="133.9" y2="991" stroke="#d8d8f8" stroke-width="1" stroke-dasharray="1 1.9"/><line x1="146.2" y1="961" x2="146.2" y2="991" stroke="#d8d8f8" stroke-width="1" stroke-dasharray="1 1.9"/><rect x="86" y="991.5" width="60" height="2.5" fill="#3aa040"/><circle cx="88.3" cy="1008.3" r="4.3" fill="#1a6fc0"/><circle cx="87.3" cy="1007.3" r="1.6" fill="#4aa0e8" opacity="0.8"/><circle cx="99.6" cy="1008.3" r="4.3" fill="#1a6fc0"/><circle cx="98.6" cy="1007.3" r="1.6" fill="#4aa0e8" opacity="0.8"/><circle cx="111.0" cy="1008.3" r="4.3" fill="#1a6fc0"/><circle cx="110.0" cy="1007.3" r="1.6" fill="#4aa0e8" opacity="0.8"/><circle cx="122.3" cy="1008.3" r="4.3" fill="#1a6fc0"/><circle cx="121.3" cy="1007.3" r="1.6" fill="#4aa0e8" opacity="0.8"/><circle cx="133.7" cy="1008.3" r="4.3" fill="#1a6fc0"/><circle cx="132.7" cy="1007.3" r="1.6" fill="#4aa0e8" opacity="0.8"/><circle cx="145.0" cy="1008.3" r="4.3" fill="#1a6fc0"/><circle cx="144.0" cy="1007.3" r="1.6" fill="#4aa0e8" opacity="0.8"/><rect x="100" y="1017" width="40" height="2.5" fill="#8a8a8a" opacity="0.6"/><rect x="103" y="1024.5" width="5" height="3" fill="#222"/><rect x="101.8" y="917" width="4.4" height="27" rx="2.2" fill="#111"/><rect x="102.2" y="940" width="3.6" height="5" fill="#b08a3a"/><path d="M91.2,896.9 A23.2,20.8 0 0 0 91.2,932.9" fill="none" stroke="#eaf2fb" stroke-width="6.0" stroke-linecap="round"/><path d="M114.4,896.9 A23.2,20.8 0 0 1 114.4,932.9" fill="none" stroke="#eaf2fb" stroke-width="6.0" stroke-linecap="round"/><path d="M93.4,902.4 A16.8,15.1 0 0 0 93.4,927.4" fill="none" stroke="#eaf2fb" stroke-width="6.0" stroke-linecap="round"/><path d="M112.2,902.4 A16.8,15.1 0 0 1 112.2,927.4" fill="none" stroke="#eaf2fb" stroke-width="6.0" stroke-linecap="round"/><path d="M95.6,908.0 A10.7,9.3 0 0 0 95.6,921.8" fill="none" stroke="#eaf2fb" stroke-width="6.0" stroke-linecap="round"/><path d="M110.0,908.0 A10.7,9.3 0 0 1 110.0,921.8" fill="none" stroke="#eaf2fb" stroke-width="6.0" stroke-linecap="round"/><path d="M91.2,896.9 A23.2,20.8 0 0 0 91.2,932.9" fill="none" stroke="#3a75bd" stroke-width="4.6" stroke-linecap="round"/><path d="M114.4,896.9 A23.2,20.8 0 0 1 114.4,932.9" fill="none" stroke="#3a75bd" stroke-width="4.6" stroke-linecap="round"/><path d="M93.4,902.4 A16.8,15.1 0 0 0 93.4,927.4" fill="none" stroke="#3a75bd" stroke-width="4.6" stroke-linecap="round"/><path d="M112.2,902.4 A16.8,15.1 0 0 1 112.2,927.4" fill="none" stroke="#3a75bd" stroke-width="4.6" stroke-linecap="round"/><path d="M95.6,908.0 A10.7,9.3 0 0 0 95.6,921.8" fill="none" stroke="#3a75bd" stroke-width="4.6" stroke-linecap="round"/><path d="M110.0,908.0 A10.7,9.3 0 0 1 110.0,921.8" fill="none" stroke="#3a75bd" stroke-width="4.6" stroke-linecap="round"/><rect x="168.5" y="970" width="38.5" height="4.3" fill="#777"/><rect x="207.4" y="923.7" width="118" height="97.6" fill="#fcfcfc"/><polygon points="214.0,985.0 296.7,975.0 299.0,990.0 292.0,996.0 240.0,1022.0 233.0,1019.0 220.0,1002.0" fill="#151515" /><path d="M237,1006 L296,981 M238,1011 L296,986" stroke="#3d3d3d" stroke-width="1" fill="none"/><ellipse cx="252" cy="1014.5" rx="4" ry="1.8" transform="rotate(-25 252 1014.5)" fill="#eee"/><ellipse cx="288" cy="997.5" rx="4" ry="1.8" transform="rotate(-25 288 997.5)" fill="#eee"/><polygon points="212.1,971.4 269.5,950.8 296.7,973.5 235.1,1000.5" fill="#1d1d1d" /><polygon points="212.1,971.4 235.1,1000.5 236.0,1010.0 213.0,981.0" fill="#0d0d0d" /><rect x="252" y="957" width="3" height="3" fill="#ddd" transform="rotate(-20 252 957)"/><rect x="256" y="955.5" width="9" height="1.5" fill="#ccc" transform="rotate(-20 256 955.5)"/><rect x="219" y="972" width="5" height="1.2" fill="#bbb" transform="rotate(-20 219 972)"/><polygon points="211.0,979.0 216.0,981.0 223.0,994.0 222.0,998.0 216.0,994.0" fill="#b0b0b0" /><polygon points="219.5,997.0 228.0,995.0 233.5,1004.0 233.0,1013.0 224.0,1015.0 219.5,1008.0" fill="#3cbf55" /><path d="M221,1000 L231,998 M221,1004 L232,1002 M221,1008 L232,1006" stroke="#2a8a3a" stroke-width="0.8"/><ellipse cx="299.8" cy="1000.4" rx="7.9" ry="2.6" fill="#1a1a1a"/><polygon points="297.5,993.0 302.0,993.0 305.0,999.0 294.5,999.0" fill="#222" /><line x1="299.2" y1="940" x2="299.2" y2="995" stroke="#222" stroke-width="1.6"/><rect x="297.6" y="967" width="3.4" height="10" fill="#2a2a2a"/><rect x="298.2" y="939" width="2" height="4" fill="#111"/><path d="M306.1,935.0 A8.3,8.3 0 0 1 306.1,945.6" fill="none" stroke="#8a8a8a" stroke-width="1.8"/><path d="M312.0,930.0 A16.1,16.1 0 0 1 312.0,950.6" fill="none" stroke="#8a8a8a" stroke-width="1.8"/><path d="M317.7,924.6 A23.9,23.9 0 0 1 317.7,956.0" fill="none" stroke="#8a8a8a" stroke-width="1.8"/><rect x="745.3" y="903.3" width="102.8" height="113.7" fill="url(#colBg)"/><rect x="751.5" y="933.8" width="94" height="80" fill="url(#colPanel)" stroke="#9a9792" stroke-width="0.8"/><rect x="754" y="935.3" width="89" height="76" fill="none" stroke="#a5a29d" stroke-width="0.6"/><rect x="760" y="939.3" width="37" height="2.6" fill="#6a6a6a" opacity="0.6"/><circle cx="814.0" cy="941.3" r="1" fill="#e05050"/><circle cx="819.8" cy="941.3" r="1" fill="#333"/><circle cx="825.6" cy="941.3" r="1" fill="#333"/><circle cx="831.4" cy="941.3" r="1" fill="#333"/><rect x="763.8" y="946.6999999999999" width="65" height="38.5" fill="#7a5a20"/><rect x="764.8" y="947.6999999999999" width="63" height="36.5" fill="#1e1ea8"/><rect x="765.5" y="948.3" width="61.5" height="2" fill="#e8e060" opacity="0.8"/><line x1="765" y1="953.2" x2="827.5" y2="953.2" stroke="#5a5ad8" stroke-width="0.5"/><line x1="765" y1="956.1" x2="827.5" y2="956.1" stroke="#5a5ad8" stroke-width="0.5"/><line x1="765" y1="959.0" x2="827.5" y2="959.0" stroke="#5a5ad8" stroke-width="0.5"/><line x1="765" y1="961.9" x2="827.5" y2="961.9" stroke="#5a5ad8" stroke-width="0.5"/><line x1="765" y1="964.8" x2="827.5" y2="964.8" stroke="#5a5ad8" stroke-width="0.5"/><line x1="765" y1="967.7" x2="827.5" y2="967.7" stroke="#5a5ad8" stroke-width="0.5"/><line x1="765" y1="970.6" x2="827.5" y2="970.6" stroke="#5a5ad8" stroke-width="0.5"/><line x1="765" y1="973.5" x2="827.5" y2="973.5" stroke="#5a5ad8" stroke-width="0.5"/><line x1="765" y1="976.4" x2="827.5" y2="976.4" stroke="#5a5ad8" stroke-width="0.5"/><line x1="765" y1="979.3" x2="827.5" y2="979.3" stroke="#5a5ad8" stroke-width="0.5"/><line x1="777.0" y1="950.3" x2="777.0" y2="980.3" stroke="#d8d8f8" stroke-width="1" stroke-dasharray="1 1.9"/><line x1="789.3" y1="950.3" x2="789.3" y2="980.3" stroke="#d8d8f8" stroke-width="1" stroke-dasharray="1 1.9"/><line x1="801.6" y1="950.3" x2="801.6" y2="980.3" stroke="#d8d8f8" stroke-width="1" stroke-dasharray="1 1.9"/><line x1="813.9" y1="950.3" x2="813.9" y2="980.3" stroke="#d8d8f8" stroke-width="1" stroke-dasharray="1 1.9"/><line x1="826.2" y1="950.3" x2="826.2" y2="980.3" stroke="#d8d8f8" stroke-width="1" stroke-dasharray="1 1.9"/><rect x="766" y="980.8" width="60" height="2.5" fill="#3aa040"/><circle cx="768.3" cy="997.5999999999999" r="4.3" fill="#1a6fc0"/><circle cx="767.3" cy="996.5999999999999" r="1.6" fill="#4aa0e8" opacity="0.8"/><circle cx="779.6" cy="997.5999999999999" r="4.3" fill="#1a6fc0"/><circle cx="778.6" cy="996.5999999999999" r="1.6" fill="#4aa0e8" opacity="0.8"/><circle cx="791.0" cy="997.5999999999999" r="4.3" fill="#1a6fc0"/><circle cx="790.0" cy="996.5999999999999" r="1.6" fill="#4aa0e8" opacity="0.8"/><circle cx="802.3" cy="997.5999999999999" r="4.3" fill="#1a6fc0"/><circle cx="801.3" cy="996.5999999999999" r="1.6" fill="#4aa0e8" opacity="0.8"/><circle cx="813.7" cy="997.5999999999999" r="4.3" fill="#1a6fc0"/><circle cx="812.7" cy="996.5999999999999" r="1.6" fill="#4aa0e8" opacity="0.8"/><circle cx="825.0" cy="997.5999999999999" r="4.3" fill="#1a6fc0"/><circle cx="824.0" cy="996.5999999999999" r="1.6" fill="#4aa0e8" opacity="0.8"/><rect x="780" y="1006.3" width="40" height="2.5" fill="#8a8a8a" opacity="0.6"/><rect x="783" y="1013.8" width="5" height="3" fill="#222"/><rect x="781.8" y="906.3" width="4.4" height="27" rx="2.2" fill="#111"/><rect x="782.2" y="929.3" width="3.6" height="5" fill="#b08a3a"/><path d="M771.2,886.2 A23.2,20.8 0 0 0 771.2,922.2" fill="none" stroke="#eaf2fb" stroke-width="6.0" stroke-linecap="round"/><path d="M794.4,886.2 A23.2,20.8 0 0 1 794.4,922.2" fill="none" stroke="#eaf2fb" stroke-width="6.0" stroke-linecap="round"/><path d="M773.4,891.7 A16.8,15.1 0 0 0 773.4,916.7" fill="none" stroke="#eaf2fb" stroke-width="6.0" stroke-linecap="round"/><path d="M792.2,891.7 A16.8,15.1 0 0 1 792.2,916.7" fill="none" stroke="#eaf2fb" stroke-width="6.0" stroke-linecap="round"/><path d="M775.6,897.3 A10.7,9.3 0 0 0 775.6,911.1" fill="none" stroke="#eaf2fb" stroke-width="6.0" stroke-linecap="round"/><path d="M790.0,897.3 A10.7,9.3 0 0 1 790.0,911.1" fill="none" stroke="#eaf2fb" stroke-width="6.0" stroke-linecap="round"/><path d="M771.2,886.2 A23.2,20.8 0 0 0 771.2,922.2" fill="none" stroke="#3a75bd" stroke-width="4.6" stroke-linecap="round"/><path d="M794.4,886.2 A23.2,20.8 0 0 1 794.4,922.2" fill="none" stroke="#3a75bd" stroke-width="4.6" stroke-linecap="round"/><path d="M773.4,891.7 A16.8,15.1 0 0 0 773.4,916.7" fill="none" stroke="#3a75bd" stroke-width="4.6" stroke-linecap="round"/><path d="M792.2,891.7 A16.8,15.1 0 0 1 792.2,916.7" fill="none" stroke="#3a75bd" stroke-width="4.6" stroke-linecap="round"/><path d="M775.6,897.3 A10.7,9.3 0 0 0 775.6,911.1" fill="none" stroke="#3a75bd" stroke-width="4.6" stroke-linecap="round"/><path d="M790.0,897.3 A10.7,9.3 0 0 1 790.0,911.1" fill="none" stroke="#3a75bd" stroke-width="4.6" stroke-linecap="round"/><rect x="848.0" y="959" width="38.5" height="4.3" fill="#777"/><rect x="886.9" y="912.7" width="118" height="97.6" fill="#fcfcfc"/><polygon points="893.5,974.0 976.2,964.0 978.5,979.0 971.5,985.0 919.5,1011.0 912.5,1008.0 899.5,991.0" fill="#151515" /><path d="M916.5,995 L975.5,970 M917.5,1000 L975.5,975" stroke="#3d3d3d" stroke-width="1" fill="none"/><ellipse cx="931.5" cy="1003.5" rx="4" ry="1.8" transform="rotate(-25 931.5 1003.5)" fill="#eee"/><ellipse cx="967.5" cy="986.5" rx="4" ry="1.8" transform="rotate(-25 967.5 986.5)" fill="#eee"/><polygon points="891.6,960.4 949.0,939.8 976.2,962.5 914.6,989.5" fill="#1d1d1d" /><polygon points="891.6,960.4 914.6,989.5 915.5,999.0 892.5,970.0" fill="#0d0d0d" /><rect x="931.5" y="946" width="3" height="3" fill="#ddd" transform="rotate(-20 931.5 946)"/><rect x="935.5" y="944.5" width="9" height="1.5" fill="#ccc" transform="rotate(-20 935.5 944.5)"/><rect x="898.5" y="961" width="5" height="1.2" fill="#bbb" transform="rotate(-20 898.5 961)"/><polygon points="890.5,968.0 895.5,970.0 902.5,983.0 901.5,987.0 895.5,983.0" fill="#b0b0b0" /><polygon points="899.0,986.0 907.5,984.0 913.0,993.0 912.5,1002.0 903.5,1004.0 899.0,997.0" fill="#3cbf55" /><path d="M900.5,989 L910.5,987 M900.5,993 L911.5,991 M900.5,997 L911.5,995" stroke="#2a8a3a" stroke-width="0.8"/><ellipse cx="979.3" cy="989.4" rx="7.9" ry="2.6" fill="#1a1a1a"/><polygon points="977.0,982.0 981.5,982.0 984.5,988.0 974.0,988.0" fill="#222" /><line x1="978.7" y1="929" x2="978.7" y2="984" stroke="#222" stroke-width="1.6"/><rect x="977.1" y="956" width="3.4" height="10" fill="#2a2a2a"/><rect x="977.7" y="928" width="2" height="4" fill="#111"/><path d="M985.6,924.0 A8.3,8.3 0 0 1 985.6,934.6" fill="none" stroke="#8a8a8a" stroke-width="1.8"/><path d="M991.5,919.0 A16.1,16.1 0 0 1 991.5,939.6" fill="none" stroke="#8a8a8a" stroke-width="1.8"/><path d="M997.2,913.6 A23.9,23.9 0 0 1 997.2,945.0" fill="none" stroke="#8a8a8a" stroke-width="1.8"/>
<rect x="74" y="1198" width="40" height="26" fill="#d6d6d6" opacity="0.85" filter="url(#blur1)"/><rect x="71" y="1195" width="40" height="24.8" rx="1.5" fill="#f79646" stroke="#b34e3c" stroke-width="2"/><path d="M67.4,1179.3 A25.65,25.65 0 0 1 114.6,1179.3" fill="none" stroke="#2e6cb3" stroke-width="4.7" stroke-linecap="round"/><path d="M74.9,1181.9 A18.3,18.3 0 0 1 107.1,1181.9" fill="none" stroke="#2e6cb3" stroke-width="4.7" stroke-linecap="round"/><path d="M81.6,1184.5 A12.07,12.07 0 0 1 100.4,1184.5" fill="none" stroke="#2e6cb3" stroke-width="4.7" stroke-linecap="round"/><rect x="169" y="1198" width="40" height="26" fill="#d6d6d6" opacity="0.85" filter="url(#blur1)"/><rect x="166" y="1195" width="40" height="24.8" rx="1.5" fill="#f79646" stroke="#b34e3c" stroke-width="2"/><path d="M162.4,1179.3 A25.65,25.65 0 0 1 209.6,1179.3" fill="none" stroke="#2e6cb3" stroke-width="4.7" stroke-linecap="round"/><path d="M169.9,1181.9 A18.3,18.3 0 0 1 202.1,1181.9" fill="none" stroke="#2e6cb3" stroke-width="4.7" stroke-linecap="round"/><path d="M176.6,1184.5 A12.07,12.07 0 0 1 195.4,1184.5" fill="none" stroke="#2e6cb3" stroke-width="4.7" stroke-linecap="round"/><rect x="262.5" y="1198" width="40" height="26" fill="#d6d6d6" opacity="0.85" filter="url(#blur1)"/><rect x="259.5" y="1195" width="40" height="24.8" rx="1.5" fill="#f79646" stroke="#b34e3c" stroke-width="2"/><path d="M255.9,1179.3 A25.65,25.65 0 0 1 303.1,1179.3" fill="none" stroke="#2e6cb3" stroke-width="4.7" stroke-linecap="round"/><path d="M263.4,1181.9 A18.3,18.3 0 0 1 295.6,1181.9" fill="none" stroke="#2e6cb3" stroke-width="4.7" stroke-linecap="round"/><path d="M270.1,1184.5 A12.07,12.07 0 0 1 288.9,1184.5" fill="none" stroke="#2e6cb3" stroke-width="4.7" stroke-linecap="round"/><rect x="74" y="1294" width="40" height="26" fill="#d6d6d6" opacity="0.85" filter="url(#blur1)"/><rect x="71" y="1291" width="40" height="24.8" rx="1.5" fill="#f79646" stroke="#b34e3c" stroke-width="2"/><path d="M67.4,1275.3 A25.65,25.65 0 0 1 114.6,1275.3" fill="none" stroke="#2e6cb3" stroke-width="4.7" stroke-linecap="round"/><path d="M74.9,1277.9 A18.3,18.3 0 0 1 107.1,1277.9" fill="none" stroke="#2e6cb3" stroke-width="4.7" stroke-linecap="round"/><path d="M81.6,1280.5 A12.07,12.07 0 0 1 100.4,1280.5" fill="none" stroke="#2e6cb3" stroke-width="4.7" stroke-linecap="round"/><rect x="169" y="1294" width="40" height="26" fill="#d6d6d6" opacity="0.85" filter="url(#blur1)"/><rect x="166" y="1291" width="40" height="24.8" rx="1.5" fill="#f79646" stroke="#b34e3c" stroke-width="2"/><path d="M162.4,1275.3 A25.65,25.65 0 0 1 209.6,1275.3" fill="none" stroke="#2e6cb3" stroke-width="4.7" stroke-linecap="round"/><path d="M169.9,1277.9 A18.3,18.3 0 0 1 202.1,1277.9" fill="none" stroke="#2e6cb3" stroke-width="4.7" stroke-linecap="round"/><path d="M176.6,1280.5 A12.07,12.07 0 0 1 195.4,1280.5" fill="none" stroke="#2e6cb3" stroke-width="4.7" stroke-linecap="round"/><rect x="262.5" y="1294" width="40" height="26" fill="#d6d6d6" opacity="0.85" filter="url(#blur1)"/><rect x="259.5" y="1291" width="40" height="24.8" rx="1.5" fill="#f79646" stroke="#b34e3c" stroke-width="2"/><path d="M255.9,1275.3 A25.65,25.65 0 0 1 303.1,1275.3" fill="none" stroke="#2e6cb3" stroke-width="4.7" stroke-linecap="round"/><path d="M263.4,1277.9 A18.3,18.3 0 0 1 295.6,1277.9" fill="none" stroke="#2e6cb3" stroke-width="4.7" stroke-linecap="round"/><path d="M270.1,1280.5 A12.07,12.07 0 0 1 288.9,1280.5" fill="none" stroke="#2e6cb3" stroke-width="4.7" stroke-linecap="round"/><rect x="753.5" y="1187" width="40" height="26" fill="#d6d6d6" opacity="0.85" filter="url(#blur1)"/><rect x="750.5" y="1184" width="40" height="24.8" rx="1.5" fill="#f79646" stroke="#b34e3c" stroke-width="2"/><path d="M746.9,1168.3 A25.65,25.65 0 0 1 794.1,1168.3" fill="none" stroke="#2e6cb3" stroke-width="4.7" stroke-linecap="round"/><path d="M754.4,1170.9 A18.3,18.3 0 0 1 786.6,1170.9" fill="none" stroke="#2e6cb3" stroke-width="4.7" stroke-linecap="round"/><path d="M761.1,1173.5 A12.07,12.07 0 0 1 779.9,1173.5" fill="none" stroke="#2e6cb3" stroke-width="4.7" stroke-linecap="round"/><rect x="848.5" y="1187" width="40" height="26" fill="#d6d6d6" opacity="0.85" filter="url(#blur1)"/><rect x="845.5" y="1184" width="40" height="24.8" rx="1.5" fill="#f79646" stroke="#b34e3c" stroke-width="2"/><path d="M841.9,1168.3 A25.65,25.65 0 0 1 889.1,1168.3" fill="none" stroke="#2e6cb3" stroke-width="4.7" stroke-linecap="round"/><path d="M849.4,1170.9 A18.3,18.3 0 0 1 881.6,1170.9" fill="none" stroke="#2e6cb3" stroke-width="4.7" stroke-linecap="round"/><path d="M856.1,1173.5 A12.07,12.07 0 0 1 874.9,1173.5" fill="none" stroke="#2e6cb3" stroke-width="4.7" stroke-linecap="round"/><rect x="942.0" y="1187" width="40" height="26" fill="#d6d6d6" opacity="0.85" filter="url(#blur1)"/><rect x="939.0" y="1184" width="40" height="24.8" rx="1.5" fill="#f79646" stroke="#b34e3c" stroke-width="2"/><path d="M935.4,1168.3 A25.65,25.65 0 0 1 982.6,1168.3" fill="none" stroke="#2e6cb3" stroke-width="4.7" stroke-linecap="round"/><path d="M942.9,1170.9 A18.3,18.3 0 0 1 975.1,1170.9" fill="none" stroke="#2e6cb3" stroke-width="4.7" stroke-linecap="round"/><path d="M949.6,1173.5 A12.07,12.07 0 0 1 968.4,1173.5" fill="none" stroke="#2e6cb3" stroke-width="4.7" stroke-linecap="round"/><rect x="753.5" y="1283" width="40" height="26" fill="#d6d6d6" opacity="0.85" filter="url(#blur1)"/><rect x="750.5" y="1280" width="40" height="24.8" rx="1.5" fill="#f79646" stroke="#b34e3c" stroke-width="2"/><path d="M746.9,1264.3 A25.65,25.65 0 0 1 794.1,1264.3" fill="none" stroke="#2e6cb3" stroke-width="4.7" stroke-linecap="round"/><path d="M754.4,1266.9 A18.3,18.3 0 0 1 786.6,1266.9" fill="none" stroke="#2e6cb3" stroke-width="4.7" stroke-linecap="round"/><path d="M761.1,1269.5 A12.07,12.07 0 0 1 779.9,1269.5" fill="none" stroke="#2e6cb3" stroke-width="4.7" stroke-linecap="round"/><rect x="848.5" y="1283" width="40" height="26" fill="#d6d6d6" opacity="0.85" filter="url(#blur1)"/><rect x="845.5" y="1280" width="40" height="24.8" rx="1.5" fill="#f79646" stroke="#b34e3c" stroke-width="2"/><path d="M841.9,1264.3 A25.65,25.65 0 0 1 889.1,1264.3" fill="none" stroke="#2e6cb3" stroke-width="4.7" stroke-linecap="round"/><path d="M849.4,1266.9 A18.3,18.3 0 0 1 881.6,1266.9" fill="none" stroke="#2e6cb3" stroke-width="4.7" stroke-linecap="round"/><path d="M856.1,1269.5 A12.07,12.07 0 0 1 874.9,1269.5" fill="none" stroke="#2e6cb3" stroke-width="4.7" stroke-linecap="round"/><rect x="942.0" y="1283" width="40" height="26" fill="#d6d6d6" opacity="0.85" filter="url(#blur1)"/><rect x="939.0" y="1280" width="40" height="24.8" rx="1.5" fill="#f79646" stroke="#b34e3c" stroke-width="2"/><path d="M935.4,1264.3 A25.65,25.65 0 0 1 982.6,1264.3" fill="none" stroke="#2e6cb3" stroke-width="4.7" stroke-linecap="round"/><path d="M942.9,1266.9 A18.3,18.3 0 0 1 975.1,1266.9" fill="none" stroke="#2e6cb3" stroke-width="4.7" stroke-linecap="round"/><path d="M949.6,1269.5 A12.07,12.07 0 0 1 968.4,1269.5" fill="none" stroke="#2e6cb3" stroke-width="4.7" stroke-linecap="round"/>
<circle cx="517.7" cy="1141" r="2.7" fill="#222"/>
<circle cx="540.8" cy="1141" r="2.7" fill="#222"/>
<circle cx="564.1" cy="1141" r="2.7" fill="#222"/>
</svg>
<div class="t" style="left:142px;top:440.5px;font-size:37px;color:#333">系统服务器组屏</div>
<div class="t" style="left:823.5px;top:297.5px;font-size:30px;letter-spacing:0.6px;color:#000">监控终端</div>
<div class="t" style="left:482px;top:641.5px;font-size:37px;letter-spacing:0.4px;color:#000">无线自组网</div>
<div class="t" style="left:29px;top:1041.5px;font-size:30px;letter-spacing:0.65px;color:#333">数据收集器</div>
<div class="t" style="left:189px;top:1041.5px;font-size:30px;letter-spacing:0.65px;color:#333">无线转发器</div>
<div class="t" style="left:709px;top:1029.5px;font-size:30px;letter-spacing:0.65px;color:#333">数据收集器</div>
<div class="t" style="left:869px;top:1029.5px;font-size:30px;letter-spacing:0.65px;color:#333">无线转发器</div>
<div class="t" style="left:61px;top:1333px;font-size:30px;letter-spacing:0.5px;color:#333">无线温度传感器</div>
<div class="t" style="left:741px;top:1332px;font-size:30px;letter-spacing:0.5px;color:#333">无线温度传感器</div>
<div class="t" style="left:134px;top:1401.5px;font-size:37px;font-weight:bold;color:#2b2b2b">风机1</div>
<div class="t" style="left:833px;top:1408.5px;font-size:37px;font-weight:bold;color:#2b2b2b">风机N</div>
</body></html>
